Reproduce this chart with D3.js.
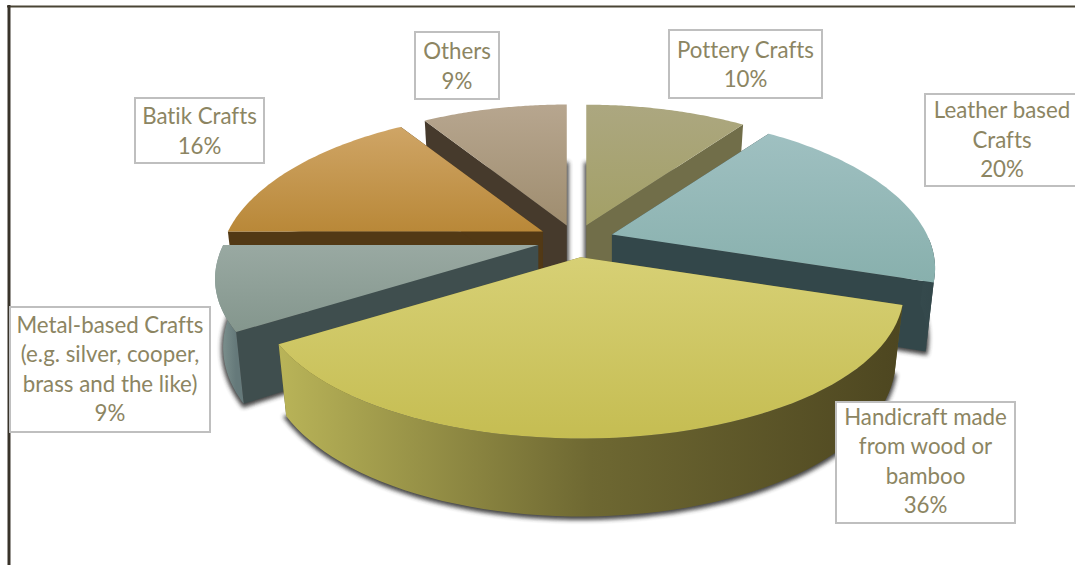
<!DOCTYPE html>
<html>
<head>
<meta charset="utf-8">
<script src="https://cdn.jsdelivr.net/npm/d3@7/dist/d3.min.js"></script>
<style>
  html, body { margin: 0; padding: 0; background: #fff; overflow: hidden; }
  svg { display: block; }
  text { font-family: Lato, "Open Sans", sans-serif; font-variant-ligatures: none; }
</style>
</head>
<body>
<svg id="chart" width="1075" height="565"></svg>
<script>
// Share of craft types, clockwise from twelve o'clock
const categories = ["Pottery Crafts", "Leather based Crafts", "Handicraft made from wood or bamboo",
  "Metal-based Crafts (e.g. silver, cooper, brass and the like)", "Batik Crafts", "Others"];
const shares = [10, 20, 36, 9, 16, 9];
const labelLines = [
  ["Pottery Crafts"],
  ["Leather based", "Crafts"],
  ["Handicraft made", "from wood or", "bamboo"],
  ["Metal-based Crafts", "(e.g. silver, cooper,", "brass and the like)"],
  ["Batik Crafts"],
  ["Others"]
];

// Slice styling: top gradient stops, cut-face colour, rim gradient stops
const topStops = [["#aca780", "#a3a066"], ["#9fc0c1", "#88b0ad"], ["#d7d075", "#c5bd52"],
  ["#99a9a2", "#84968d"], ["#cfa566", "#b98838"], ["#b7a68f", "#9f8d6f"]];
const cutColors = ["#716e49", "#33474a", "#5f5a28", "#3f4e4e", "#523915", "#463a2c"];
const rimStops = [["#807c52", "#6a6741"], ["#4a6367", "#33474a"], ["#b9b458", "#6e6832", "#4d4620"],
  ["#869a96", "#65797a"], ["#6a4a1c", "#523915"], ["#57493a", "#463a2c"]];

// Label box layout: left, top, width, height, and a small text shift inside the box
const labelBoxes = [[669, 30, 153, 68], [925, 94, 160, 92], [836, 402, 179, 121],
  [10, 307, 200, 125], [135, 98, 129, 65], [415, 32, 84, 67]];
const textShift = [1, 0, -1, 0, 1, 1];

// Projection of the tilted pie: unit-circle coordinates to screen offsets
const centre = [576, 240];
const radiusX = 315, radiusY = 145, perspectiveX = 0.223, perspectiveY = 0.2;
const explosion = [0.105, 0.12, 0.12, 0.125, 0.12, 0.105];
const depth = 66, baseScale = 0.975;

const svg = d3.select("#chart");
const defs = svg.append("defs");

defs.append("filter").attr("id", "soft").attr("x", "-20%").attr("y", "-20%")
  .attr("width", "140%").attr("height", "140%")
  .append("feGaussianBlur").attr("stdDeviation", 2);

const scaleX = d3.scaleLinear().domain([-1, 1]).range([-radiusX, radiusX]);
const scaleY = d3.scaleLinear().domain([-1, 1]).range([radiusY, -radiusY]);

function project(theta, isBase) {
  const X = Math.sin(theta), Y = Math.cos(theta);
  const wx = 1 + perspectiveX * Y, wy = 1 + perspectiveY * Y;
  const s = isBase ? baseScale : 1;
  return [scaleX(X) * s / wx, scaleY(Y) * s / wy + (isBase ? depth / wy : 0)];
}

const arcSamples = (a0, a1) => d3.range(0, 61).map(i => a0 + (a1 - a0) * i / 60);
const line = d3.line();

const arcs = d3.pie().sort(null).value(d => d)(shares);

const slices = arcs.map((a, i) => {
  const mid = (a.startAngle + a.endAngle) / 2;
  const origin = [centre[0] + scaleX(Math.sin(mid)) * explosion[i],
                  centre[1] + scaleY(Math.cos(mid)) * explosion[i]];
  const at = p => [origin[0] + p[0], origin[1] + p[1]];
  const angles = arcSamples(a.startAngle, a.endAngle);
  // Only the front half of the rim faces the viewer
  const frontAngles = angles.filter(t => Math.cos(t) <= 0);
  return {
    i,
    apexTop: origin,
    apexBase: at([0, depth]),
    rimTop: angles.map(t => at(project(t, false))),
    rimBase: angles.map(t => at(project(t, true))),
    wallTop: frontAngles.map(t => at(project(t, false))),
    wallBase: frontAngles.map(t => at(project(t, true)))
  };
});

// Vertical sheen on the top faces, left-to-right shading on the rims
slices.forEach(s => {
  const ys = s.rimTop.map(p => p[1]).concat(s.apexTop[1]);
  const xs = s.rimTop.map(p => p[0]);
  const top = defs.append("linearGradient").attr("id", "top" + s.i)
    .attr("gradientUnits", "userSpaceOnUse")
    .attr("x1", 0).attr("x2", 0).attr("y1", d3.min(ys)).attr("y2", d3.max(ys));
  top.append("stop").attr("offset", 0).attr("stop-color", topStops[s.i][0]);
  top.append("stop").attr("offset", 1).attr("stop-color", topStops[s.i][1]);
  const rim = defs.append("linearGradient").attr("id", "rim" + s.i)
    .attr("gradientUnits", "userSpaceOnUse")
    .attr("x1", d3.min(xs)).attr("x2", d3.max(xs)).attr("y1", 0).attr("y2", 0);
  rimStops[s.i].forEach((c, k, all) => {
    rim.append("stop").attr("offset", k / (all.length - 1)).attr("stop-color", c);
  });
});

// Frame along the top and left
svg.append("line").attr("x1", 7).attr("x2", 1075).attr("y1", 6.5).attr("y2", 6.5)
  .attr("stroke", "#4a4535").attr("stroke-width", 2);
svg.append("line").attr("x1", 9).attr("x2", 9).attr("y1", 5).attr("y2", 565)
  .attr("stroke", "#38332a").attr("stroke-width", 3);

// Soft shadows cast by the base outlines sit beneath every slice
const shadowLayer = svg.append("g");
slices.forEach(s => {
  shadowLayer.append("path")
    .attr("d", line([s.apexBase, ...s.rimBase]) + "Z")
    .attr("transform", "translate(0,1.5)")
    .attr("fill", "#333").attr("stroke", "#333").attr("stroke-width", 4)
    .attr("opacity", 0.9).attr("filter", "url(#soft)");
});

// Far slices first so nearer ones overlap them
const paintOrder = [5, 0, 4, 1, 3, 2];
const pieLayer = svg.append("g");

paintOrder.forEach(i => {
  const s = slices[i];
  const g = pieLayer.append("g");
  const first = 0, last = s.rimTop.length - 1;

  // Radial cut faces
  [first, last].forEach(k => {
    g.append("path")
      .attr("d", line([s.apexTop, s.rimTop[k], s.rimBase[k], s.apexBase]) + "Z")
      .attr("fill", cutColors[i]);
  });

  // Outer wall
  if (s.wallTop.length > 1) {
    g.append("path")
      .attr("d", line([...s.wallTop, ...s.wallBase.slice().reverse()]) + "Z")
      .attr("fill", `url(#rim${i})`);
  }

  // Top face
  g.append("path")
    .attr("d", line([s.apexTop, ...s.rimTop]) + "Z")
    .attr("fill", `url(#top${i})`);
});

// Value labels in white boxes
const fontSize = 22.3, lineHeight = 29.5;
const labels = svg.append("g").selectAll("g").data(categories).join("g");
labels.each(function (c, i) {
  const [x, y, w, h] = labelBoxes[i];
  const g = d3.select(this);
  g.append("rect").attr("x", x).attr("y", y).attr("width", w).attr("height", h)
    .attr("fill", "#fff").attr("stroke", "#bfbfbf").attr("stroke-width", 2);
  const rows = [...labelLines[i], `${shares[i]}%`];
  const cx = i === 1 ? 1002 : x + w / 2;
  const firstY = y + h / 2 - (rows.length - 1) / 2 * lineHeight + fontSize * 0.34 + textShift[i];
  g.selectAll("text").data(rows).join("text")
    .attr("x", cx).attr("y", (d, k) => firstY + k * lineHeight)
    .attr("text-anchor", "middle")
    .attr("font-size", fontSize).attr("fill", "#8c8562")
    .text(d => d);
});
</script>
</body>
</html>
